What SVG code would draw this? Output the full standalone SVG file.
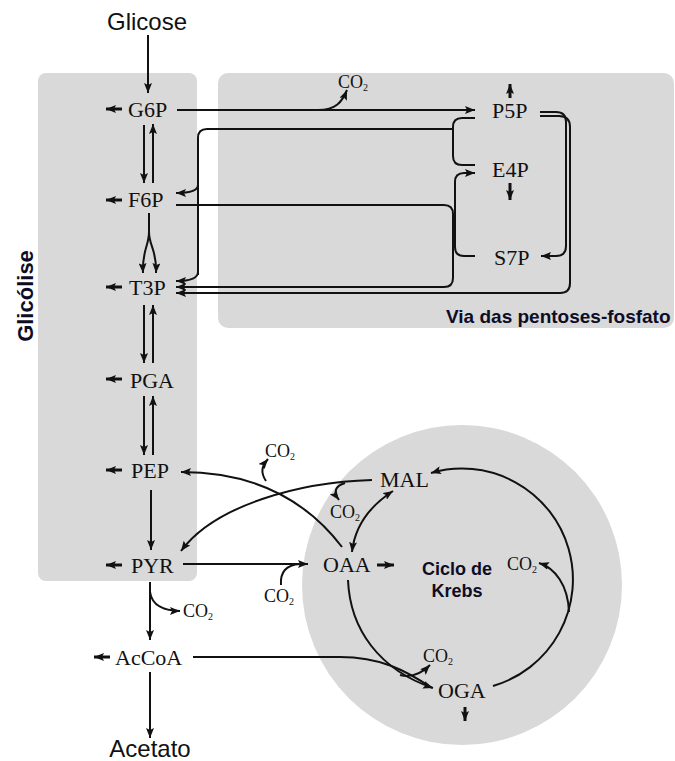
<svg xmlns="http://www.w3.org/2000/svg" width="675" height="761" viewBox="0 0 675 761">
<defs>
<style>
.bg{fill:#d9d9d9}
.node{font-family:"Liberation Serif","Times New Roman",serif;font-size:22px;fill:#111}
.co2{font-family:"Liberation Serif","Times New Roman",serif;font-size:18px;fill:#111}
.sub{font-size:10px}
.sans{font-family:"Liberation Sans",Arial,sans-serif;fill:#111}
.title{font-family:"Liberation Sans",Arial,sans-serif;font-weight:bold;fill:#0d0d26}
.c{fill:none;stroke:#111;stroke-width:2}
.t{fill:none;stroke:#111;stroke-width:3}
.a{marker-end:url(#ah)}
.d{marker-start:url(#ah);marker-end:url(#ah)}
</style>
<marker id="ah" viewBox="0 0 10 8" refX="10" refY="4" markerWidth="10" markerHeight="8" markerUnits="userSpaceOnUse" orient="auto-start-reverse">
<path d="M0,0 L10,4 L0,8 L2,4 z" fill="#111"/>
</marker>
</defs>
<rect width="675" height="761" fill="#fff"/>
<g id="panels">
<rect class="bg" x="38" y="73" width="159" height="508" rx="8"/>
<rect class="bg" x="218" y="73" width="456" height="255" rx="10"/>
<circle class="bg" cx="462" cy="585" r="160"/>
</g>
<g id="labels">
<text class="title" x="446" y="323" font-size="19">Via das pentoses-fosfato</text>
<text class="title" font-size="22" text-anchor="middle" transform="translate(33,296) rotate(-90)">Glicólise</text>
<text class="title" x="457" y="575" font-size="18" text-anchor="middle">Ciclo de</text>
<text class="title" x="457" y="597" font-size="18" text-anchor="middle">Krebs</text>
</g>
<g id="connectors">
<path class="c a" d="M148 35 L148 93"/>
<path class="c a" d="M144 125 L144 183"/>
<path class="c a" d="M153 183 L153 124"/>
<path class="c a" d="M149 213 L149 232 C149 246 142 250 143 273"/>
<path class="c a" d="M149 232 C149 246 157 250 156 273"/>
<path class="c a" d="M144 305 L144 363"/>
<path class="c a" d="M153 363 L153 305"/>
<path class="c a" d="M144 396 L144 455"/>
<path class="c a" d="M153 455 L153 396"/>
<path class="c a" d="M151 490 L151 550"/>
<path class="c a" d="M150 582 L150 640"/>
<path class="c a" d="M150 592 C152 606 165 611 180 611"/>
<path class="c a" d="M150 672 L150 738"/>
<path class="t a" d="M122 109 L106 109"/>
<path class="t a" d="M122 200 L106 200"/>
<path class="t a" d="M122 287 L106 287"/>
<path class="t a" d="M122 379 L106 379"/>
<path class="t a" d="M122 470 L106 470"/>
<path class="t a" d="M122 565 L106 565"/>
<path class="t a" d="M110 657 L94 657"/>
<path class="t a" d="M510 98 L510 84"/>
<path class="t a" d="M510 183 L510 200"/>
<path class="t a" d="M377 565 L394 565"/>
<path class="t a" d="M465 707 L465 721"/>
<path class="c a" d="M177 110 L475 110"/>
<path class="c a" d="M318 110 C336 110 342 102 347 90"/>
<path class="c" d="M475 118 L462 118 Q453 118 453 127 L453 156 Q453 165 462 165 L475 165"/>
<path class="c" d="M453 129 L207 129 Q198 129 198 138 L198 275"/>
<path class="c a" d="M198 185 Q198 193 176 193"/>
<path class="c a" d="M198 272 Q198 281 176 281"/>
<path class="c a" d="M444 205 Q453 205 453 214 L453 278 Q453 287 444 287 L176 287"/>
<path class="c" d="M444 205 L176 205"/>
<path class="c a" d="M475 256 L464 256 Q455 256 455 247 L455 182 Q455 173 464 173 L475 173"/>
<path class="c a" d="M540 112 L556 112 Q566 112 566 122 L566 246 Q566 256 556 256 L541 256"/>
<path class="c a" d="M540 116 L559 116 Q570 116 570 127 L570 283 Q570 293 560 293 L176 293"/>
<path class="c a" d="M183 564 L308 564"/>
<path class="c" d="M281 585 C280 572 286 565 300 564"/>
<path class="c a" d="M342 547 C310 505 260 472 181 472"/>
<path class="c a" d="M266 481 C260 472 262 466 268 459"/>
<path class="c a" d="M372 480 C300 482 215 505 181 551"/>
<path class="c a" d="M345 483 C335 486 333 492 339 500"/>
<path class="c d" d="M352 552 Q356 515 393 491"/>
<path class="c a" d="M493 686 A110 110 0 0 0 431 473"/>
<path class="c a" d="M569 612 C568 585 555 568 539 563"/>
<path class="c a" d="M348 580 C350 630 380 670 433 688"/>
<path class="c" d="M193 657 L340 657 C380 657 405 670 432 688"/>
<path class="c a" d="M400 675 C412 678 422 673 430 665"/>
</g>
<g id="n-glicose"><text class="sans" x="147" y="30" font-size="24" text-anchor="middle">Glicose</text></g>
<g id="n-g6p"><text class="node" x="128" y="117">G6P</text></g>
<g id="n-f6p"><text class="node" x="128" y="207">F6P</text></g>
<g id="n-t3p"><text class="node" x="129" y="295">T3P</text></g>
<g id="n-pga"><text class="node" x="130" y="388">PGA</text></g>
<g id="n-pep"><text class="node" x="131" y="478">PEP</text></g>
<g id="n-pyr"><text class="node" x="131" y="573">PYR</text></g>
<g id="n-accoa"><text class="node" x="115" y="665">AcCoA</text></g>
<g id="n-acetato"><text class="sans" x="150" y="757" font-size="24" text-anchor="middle">Acetato</text></g>
<g id="n-p5p"><text class="node" x="492" y="118">P5P</text></g>
<g id="n-e4p"><text class="node" x="492" y="177">E4P</text></g>
<g id="n-s7p"><text class="node" x="494" y="265">S7P</text></g>
<g id="n-oaa"><text class="node" x="323" y="572">OAA</text></g>
<g id="n-mal"><text class="node" x="380" y="487">MAL</text></g>
<g id="n-oga"><text class="node" x="438" y="698">OGA</text></g>
<g id="co2-ppp"><text class="co2" x="338" y="88">CO<tspan class="sub" dy="3">2</tspan></text></g>
<g id="co2-pep"><text class="co2" x="265" y="457">CO<tspan class="sub" dy="3">2</tspan></text></g>
<g id="co2-mal"><text class="co2" x="330" y="518">CO<tspan class="sub" dy="3">2</tspan></text></g>
<g id="co2-pyr-oaa"><text class="co2" x="264" y="602">CO<tspan class="sub" dy="3">2</tspan></text></g>
<g id="co2-pyr"><text class="co2" x="183" y="617">CO<tspan class="sub" dy="3">2</tspan></text></g>
<g id="co2-krebs"><text class="co2" x="507" y="570">CO<tspan class="sub" dy="3">2</tspan></text></g>
<g id="co2-oga"><text class="co2" x="423" y="662">CO<tspan class="sub" dy="3">2</tspan></text></g>
</svg>
